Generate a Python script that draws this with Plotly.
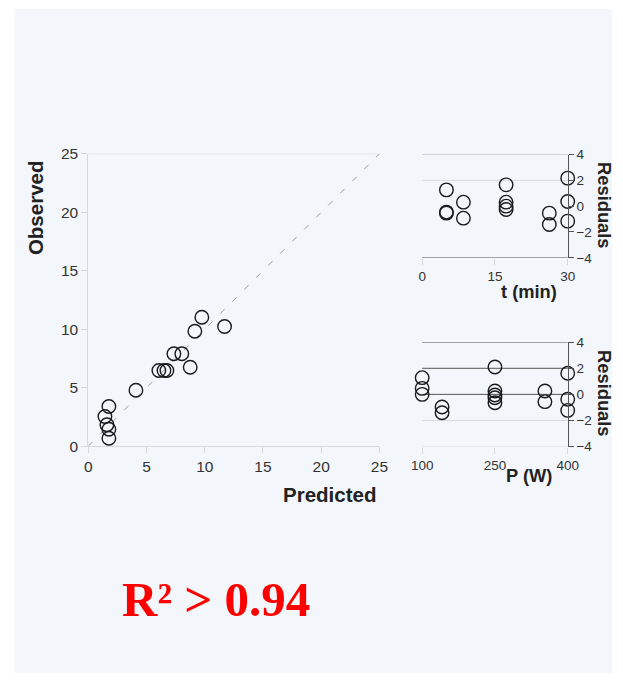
import plotly.graph_objects as go

# ---- data ----
predicted = [1.77, 1.43, 1.60, 1.77, 1.77, 4.09, 6.06, 6.50, 6.75, 7.35, 8.03, 8.75, 9.15, 9.75, 11.70]
observed = [3.39, 2.54, 1.83, 1.45, 0.68, 4.79, 6.47, 6.47, 6.47, 7.90, 7.90, 6.75, 9.83, 11.03, 10.23]

t_values = [5, 5, 5, 8.5, 8.5, 17.3, 17.3, 17.3, 17.3, 26.2, 26.2, 30, 30, 30]
t_residuals = [1.26, -0.46, -0.54, 0.31, -0.93, 1.65, 0.31, 0.0, -0.26, -0.54, -1.42, 2.17, 0.36, -1.16]

p_values = [100, 100, 100, 141, 141, 250, 250, 250, 250, 250, 353, 353, 400, 400, 400]
p_residuals = [1.28, 0.46, 0.0, -0.97, -1.41, 2.1, 0.26, -0.05, -0.26, -0.64, 0.26, -0.56, 1.62, -0.38, -1.23]

main_ticks = [0, 5, 10, 15, 20, 25]
res_ticks = [-4, -2, 0, 2, 4]
t_ticks = [0, 15, 30]
p_ticks = [100, 250, 400]

W, H = 623, 681
FONT = "Liberation Sans, Arial, sans-serif"
LIGHT = "#d5d8dd"
DARK = "#555555"

# map target picture pixels to page pixels (photo shows page slightly scaled/inset)
def fx(s):
    return (s - 11.4) / 0.965

def fy(s):
    return (s - 8.5) / 0.975

def px_x(s):
    return fx(s) / W

def px_y(s):
    return 1 - fy(s) / H

marker = dict(symbol="circle", size=13.5, color="rgba(0,0,0,0)",
              line=dict(color="#1a1a1a", width=1.4))

fig = go.Figure()

fig.add_trace(go.Scatter(x=[0, 25], y=[0, 25], mode="lines",
                         line=dict(color="#999999", width=1, dash="6px,11px"),
                         xaxis="x", yaxis="y", showlegend=False, hoverinfo="skip"))
fig.add_trace(go.Scatter(x=predicted, y=observed, mode="markers", marker=marker,
                         xaxis="x", yaxis="y", showlegend=False))
fig.add_trace(go.Scatter(x=t_values, y=t_residuals, mode="markers", marker=marker,
                         xaxis="x2", yaxis="y2", showlegend=False, cliponaxis=False))
fig.add_trace(go.Scatter(x=p_values, y=p_residuals, mode="markers", marker=marker,
                         xaxis="x3", yaxis="y3", showlegend=False, cliponaxis=False))

tickfont_main = dict(family=FONT, size=15.5, color="#333333")
tickfont_res = dict(family=FONT, size=13.5, color="#333333")

fig.update_layout(
    width=W, height=H,
    margin=dict(l=0, r=0, t=0, b=0),
    paper_bgcolor="white",
    plot_bgcolor="rgba(0,0,0,0)",
    showlegend=False,
    xaxis=dict(domain=[px_x(88.7), px_x(380)], range=[0, 25], tickvals=main_ticks,
               showline=True, linecolor=LIGHT, linewidth=1, ticks="outside",
               ticklen=6, tickcolor=LIGHT, showgrid=False, zeroline=False,
               tickfont=tickfont_main, anchor="y"),
    yaxis=dict(domain=[px_y(445.7), px_y(153.3)], range=[0, 25], tickvals=main_ticks,
               showline=True, linecolor=LIGHT, linewidth=1, ticks="outside",
               ticklen=6, tickcolor=LIGHT, showgrid=False, zeroline=False,
               tickfont=tickfont_main, anchor="x"),
    xaxis2=dict(domain=[px_x(422.7), px_x(568.3)], range=[0, 30], tickvals=t_ticks,
                showline=False, ticks="outside", ticklen=6, tickcolor=LIGHT,
                showgrid=False, zeroline=False, tickfont=tickfont_res, anchor="y2"),
    yaxis2=dict(domain=[px_y(257.3), px_y(154)], range=[-4, 4], tickvals=res_ticks,
                side="right", showline=True, linecolor=DARK, linewidth=1,
                ticks="outside", ticklen=5, tickcolor=DARK, showgrid=False,
                zeroline=False, tickfont=tickfont_res, anchor="x2"),
    xaxis3=dict(domain=[px_x(422.7), px_x(568.3)], range=[100, 400], tickvals=p_ticks,
                showline=False, ticks="outside", ticklen=6, tickcolor=LIGHT,
                showgrid=False, zeroline=False, tickfont=tickfont_res, anchor="y3"),
    yaxis3=dict(domain=[px_y(446), px_y(341.7)], range=[-4, 4], tickvals=res_ticks,
                side="right", showline=True, linecolor=DARK, linewidth=1,
                ticks="outside", ticklen=5, tickcolor=DARK, showgrid=False,
                zeroline=False, tickfont=tickfont_res, anchor="x3"),
)

shapes = [
    dict(type="rect", xref="paper", yref="paper", x0=px_x(15), x1=1.0,
         y0=0, y1=1, fillcolor="#f3f6fb", line=dict(width=0), layer="below"),
    dict(type="line", xref="x domain", yref="y", x0=0, x1=1, y0=25, y1=25,
         line=dict(color=LIGHT, width=1), layer="below"),
]
for yv, col in [(4, "#a8acb2"), (2, LIGHT), (-4, DARK)]:
    shapes.append(dict(type="line", xref="x2 domain", yref="y2", x0=0, x1=1,
                       y0=yv, y1=yv, line=dict(color=col, width=1), layer="below"))
for yv, col in [(4, DARK), (2, DARK), (0, DARK), (-2, LIGHT), (-4, LIGHT)]:
    shapes.append(dict(type="line", xref="x3 domain", yref="y3", x0=0, x1=1,
                       y0=yv, y1=yv, line=dict(color=col, width=1), layer="below"))
fig.update_layout(shapes=shapes)

title_font = dict(family=FONT, size=20.5, color="#222222")
res_title_font = dict(family=FONT, size=18.3, color="#222222")
annotations = [
    dict(text="<b>Observed</b>", x=px_x(36), y=px_y(207), xref="paper", yref="paper",
         textangle=-90, showarrow=False, font=title_font, xanchor="center", yanchor="middle"),
    dict(text="<b>Predicted</b>", x=px_x(330), y=px_y(494), xref="paper", yref="paper",
         showarrow=False, font=title_font, xanchor="center", yanchor="middle"),
    dict(text="<b>Residuals</b>", x=px_x(605), y=px_y(205), xref="paper", yref="paper",
         textangle=90, showarrow=False, font=res_title_font, xanchor="center", yanchor="middle"),
    dict(text="<b>Residuals</b>", x=px_x(605), y=px_y(393), xref="paper", yref="paper",
         textangle=90, showarrow=False, font=res_title_font, xanchor="center", yanchor="middle"),
    dict(text="<b>t (min)</b>", x=px_x(530), y=px_y(291), xref="paper", yref="paper",
         showarrow=False, font=res_title_font, xanchor="center", yanchor="middle"),
    dict(text="<b>P (W)</b>", x=px_x(530), y=px_y(475), xref="paper", yref="paper",
         showarrow=False, font=res_title_font, xanchor="center", yanchor="middle"),
    dict(text="<b>R² > 0.94</b>", x=px_x(216), y=px_y(599), xref="paper", yref="paper",
         showarrow=False, font=dict(family="Liberation Serif, Times New Roman, serif",
                                    size=49, color="#ff0000"),
         xanchor="center", yanchor="middle"),
]
fig.update_layout(annotations=annotations)

fig.write_html("out.html", config={"displayModeBar": False},
               post_script="document.body.style.margin='0';document.body.style.overflow='hidden';")
